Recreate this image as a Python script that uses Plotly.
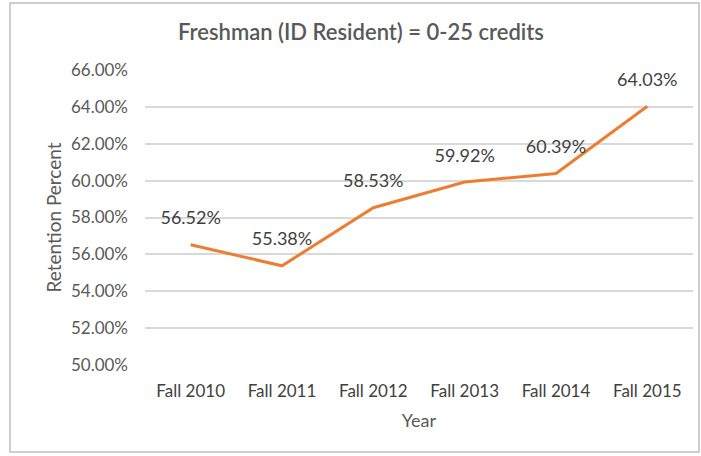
import plotly.graph_objects as go

years = ["Fall 2010", "Fall 2011", "Fall 2012", "Fall 2013", "Fall 2014", "Fall 2015"]
retention = [56.52, 55.38, 58.53, 59.92, 60.39, 64.03]
y_ticks = [50, 52, 54, 56, 58, 60, 62, 64, 66]
y_tick_labels = [f"{v:.2f}%" for v in y_ticks]
point_labels = [f"{v:.2f}%" for v in retention]

FONT = "Lato, 'Open Sans', sans-serif"
GRAY = "#595959"
DARK = "#404040"

fig = go.Figure()
fig.add_trace(go.Scatter(
    x=years, y=retention, mode="lines+markers+text",
    line=dict(color="#ED7D31", width=3),
    marker=dict(size=24, color="rgba(0,0,0,0)"),
    text=point_labels, textposition="top center",
    textfont=dict(family=FONT, size=18, color=DARK),
    hoverinfo="skip", showlegend=False, cliponaxis=False,
))

W, H = 701, 456
L, R, T, B = 145, 8, 70, 91
pw, ph = W - L - R, H - T - B

def px(x):
    return (x - L) / pw

def py(y):
    return (H - B - y) / ph

fig.update_layout(
    width=W, height=H,
    margin=dict(l=L, r=R, t=T, b=B, autoexpand=False),
    paper_bgcolor="white", plot_bgcolor="white",
    font=dict(family=FONT, color=GRAY),
    title=dict(text="Freshman (ID Resident) = 0-25 credits",
               x=px(361), xref="paper", xanchor="center",
               y=1 - 32 / H, yanchor="middle",
               font=dict(family=FONT, size=22, color=GRAY, weight=600)),
    xaxis=dict(
        type="category", range=[-0.5, 5.5],
        showgrid=False, zeroline=False, showline=False, ticks="",
        ticklabelstandoff=14,
        tickfont=dict(family=FONT, size=17, color=DARK),
        title=dict(text="Year", font=dict(family=FONT, size=18, color=GRAY), standoff=14),
    ),
    yaxis=dict(
        range=[50, 66], tickvals=y_ticks, ticktext=y_tick_labels,
        showgrid=True, gridcolor="#D9D9D9", gridwidth=1.5,
        zeroline=False, showline=False, ticks="",
        ticklabelstandoff=16,
        tickfont=dict(family=FONT, size=17, color=GRAY),
        title=dict(text="Retention Percent", font=dict(family=FONT, size=19, color=GRAY), standoff=4),
    ),
    shapes=[dict(type="rect", xref="paper", yref="paper",
                 x0=px(10), x1=px(699), y0=py(452), y1=py(3),
                 line=dict(color="#BFBFBF", width=1.5), fillcolor="rgba(0,0,0,0)", layer="below")],
)

fig.write_html("out.html", config={"displayModeBar": False},
               post_script="document.body.style.margin='0';document.body.style.overflow='hidden';")
